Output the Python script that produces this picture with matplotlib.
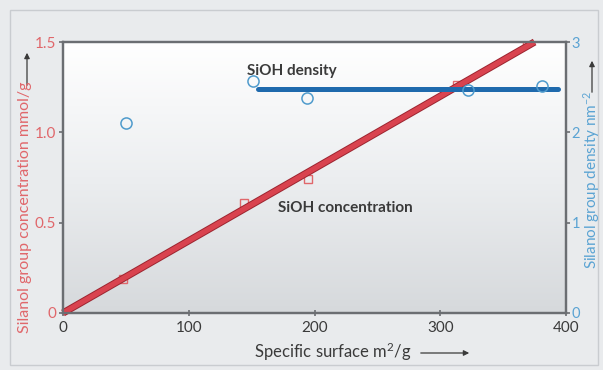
import matplotlib
matplotlib.use("Agg")
import numpy as np
import matplotlib.pyplot as plt
import matplotlib.patheffects as pe
from matplotlib.patches import Rectangle, FancyArrowPatch
from matplotlib.colors import LinearSegmentedColormap

plt.rcParams.update({
    "font.family": ["Lato", "DejaVu Sans"],
    "mathtext.fontset": "custom",
    "mathtext.rm": "Lato",
    "mathtext.it": "Lato:italic",
    "axes.edgecolor": "#6b6e72", "axes.linewidth": 1.6,
})

RED = "#d9434f"
RED_DARK = "#9c2530"
RED_TXT = "#e0676b"
BLUE = "#1f6aad"
BLUE_PT = "#4f9bcc"
BLUE_TXT = "#5aa3d3"
INK = "#3a3a3a"

# specific surface (m2/g) and silanol concentration (mmol/g)
conc_x = [48, 144, 195, 313, 369]
conc_y = [0.19, 0.61, 0.74, 1.26, 1.50]
conc_fit_x = [0, 375]
conc_fit_y = [0.0, 1.50]

# specific surface (m2/g) and silanol density (nm^-2)
dens_x = [50, 151, 194, 322, 381]
dens_y = [2.10, 2.57, 2.38, 2.47, 2.51]
dens_fit_x = [155, 394]
dens_fit_y = [2.48, 2.48]

x_ticks = [0, 100, 200, 300, 400]
left_ticks = [0, 0.5, 1.0, 1.5]
left_labels = ["0", "0.5", "1.0", "1.5"]
right_ticks = [0, 1, 2, 3]

fig = plt.figure(figsize=(6.03, 3.70), dpi=100)
fig.patch.set_facecolor("#e9ebed")
fig.patches.append(Rectangle((10 / 603, 5 / 370), 588 / 603, 355 / 370,
                             transform=fig.transFigure, fill=False,
                             ec="#c9ccd0", lw=1.0))

ax = fig.add_axes([63 / 603, 1 - 313 / 370, 503 / 603, 271 / 370])
ax2 = ax.twinx()

# white-to-grey vertical fade in the plot area
grad = np.linspace(1, 0, 256).reshape(-1, 1)
ax.imshow(grad, extent=[0, 1, 0, 1], transform=ax.transAxes, aspect="auto",
          cmap=LinearSegmentedColormap.from_list(
              "bg", ["#d6d9dc", "#eceef0", "#ffffff"]),
          zorder=0)

ax.plot(conc_x, conc_y, ls="none", marker="s", ms=6, mfc="none",
        mec=RED_TXT, mew=1.0, zorder=3)
ax.plot(conc_fit_x, conc_fit_y, color=RED, lw=3.8, solid_capstyle="butt",
        path_effects=[pe.Stroke(linewidth=5.2, foreground=RED_DARK), pe.Normal()],
        zorder=4, clip_on=False)

ax2.plot(dens_x, dens_y, ls="none", marker="o", ms=8, mfc="none",
         mec=BLUE_PT, mew=1.1, zorder=3)
ax2.plot(dens_fit_x, dens_fit_y, color=BLUE, lw=3.6, solid_capstyle="round",
         zorder=2)

ax.set_xlim(0, 400)
ax.set_ylim(0, 1.5)
ax2.set_ylim(0, 3)
ax.set_xticks(x_ticks)
ax.set_yticks(left_ticks)
ax.set_yticklabels(left_labels)
ax2.set_yticks(right_ticks)

ax.tick_params(axis="x", direction="inout", length=4, width=1.2,
               colors="#6b6e72", labelcolor=INK, labelsize=11, pad=4)
ax.tick_params(axis="y", direction="out", length=3, width=1.2,
               colors="#6b6e72", labelcolor=RED_TXT, labelsize=11, pad=2)
ax2.tick_params(axis="y", direction="out", length=3, width=1.2,
                colors="#6b6e72", labelcolor=BLUE_TXT, labelsize=10.5, pad=1)
ax2.set_zorder(ax.get_zorder() + 1)
ax2.patch.set_visible(False)

ax.text(146, 1.34, "SiOH density", fontsize=11, fontweight="bold", color=INK,
        va="center")
ax.text(171, 0.58, "SiOH concentration", fontsize=11, fontweight="bold",
        color=INK, va="center")

# axis titles with their direction arrows
fig.text(333 / 603, 1 - 352 / 370, "Specific surface m$^2$/g", fontsize=12,
         color=INK, va="center", ha="center")
fig.add_artist(FancyArrowPatch(
    (418 / 603, 1 - 353 / 370), (472 / 603, 1 - 353 / 370),
    transform=fig.transFigure, arrowstyle="-|>", mutation_scale=8,
    color=INK, lw=0.9))

fig.text(25 / 603, 1 - 207 / 370, "Silanol group concentration mmol/g",
         fontsize=11.5, color=RED_TXT, rotation=90, va="center", ha="center")
fig.add_artist(FancyArrowPatch(
    (27 / 603, 1 - 88 / 370), (27 / 603, 1 - 50 / 370),
    transform=fig.transFigure, arrowstyle="-|>", mutation_scale=8,
    color=INK, lw=0.9))

fig.text(592 / 603, 1 - 180 / 370, "Silanol group density nm$^{-2}$",
         fontsize=11, color=BLUE_TXT, rotation=90, va="center", ha="center")
fig.add_artist(FancyArrowPatch(
    (592 / 603, 1 - 95 / 370), (592 / 603, 1 - 58 / 370),
    transform=fig.transFigure, arrowstyle="-|>", mutation_scale=8,
    color=INK, lw=0.9))

fig.savefig("out.png", dpi=100, facecolor=fig.get_facecolor())
